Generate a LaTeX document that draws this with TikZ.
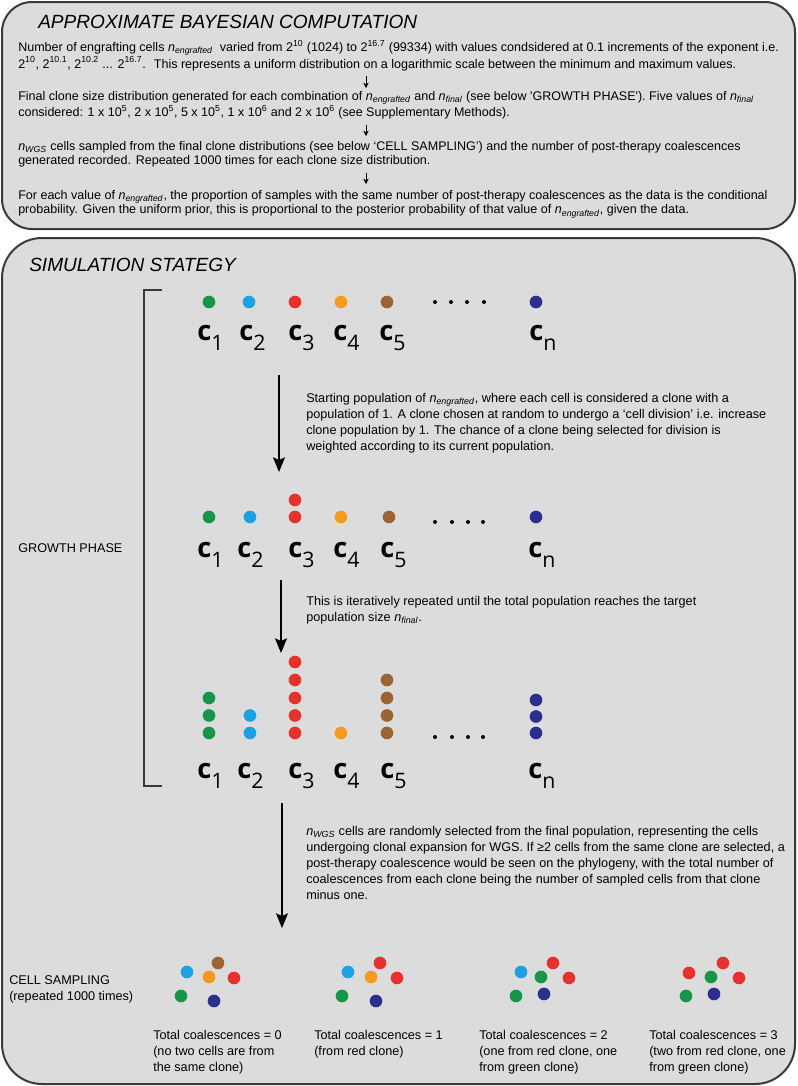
\documentclass[tikz,border=0pt]{standalone}
\usepackage{fontspec}
\setmainfont{Liberation Sans}
\newfontfamily\cfont{Open Sans}
\usetikzlibrary{arrows.meta}
\definecolor{boxfill}{HTML}{DCDCDC}
\definecolor{boxline}{HTML}{3A3A3A}
\definecolor{cgreen}{HTML}{17954A}
\definecolor{cblue}{HTML}{1DA1E2}
\definecolor{cred}{HTML}{E5322D}
\definecolor{corange}{HTML}{F49A1C}
\definecolor{cbrown}{HTML}{9B6434}
\definecolor{cnavy}{HTML}{2D2F8E}
\newcommand\nsub[1]{\textit{n}\textsubscript{\textit{#1}}}
\newcommand\csub[1]{{\bfseries c}\raisebox{-7.5pt}{\fontsize{16}{16}\selectfont #1}}
\begin{document}
\begin{tikzpicture}[x=0.75pt,y=-0.75pt,
  panel/.style={draw=boxline, fill=boxfill, line width=1.5pt},
  title/.style={font=\fontsize{14.3}{16}\selectfont\itshape, anchor=base west, inner sep=0},
  para/.style={align=left, anchor=north west, inner sep=0, font=\fontsize{9.4}{10.9}\selectfont},
  simpara/.style={align=left, anchor=north west, inner sep=0, font=\fontsize{9.5}{12}\selectfont},
  cell/.style={circle, inner sep=0, minimum size=9.5pt},
  tinydot/.style={circle, fill=black, inner sep=0, minimum size=3pt},
  clabel/.style={font=\cfont\fontsize{20.5}{21}\selectfont, anchor=base west, inner sep=0},
  flow/.style={line width=1.1pt, -{Stealth[length=11pt,width=9pt,inset=2pt]}},
  smallflow/.style={line width=0.6pt, -{Stealth[length=4pt,width=4pt]}},
  bracket/.style={line width=1.1pt, draw=boxline}
]
\useasboundingbox (0,0) rectangle (797,1086);
% panels
\draw[panel, rounded corners=22.5pt] (2,2) rectangle (795,229);
\draw[panel, rounded corners=30pt] (2,238) rectangle (795,1084);

% ---------- ABC panel
\node[title] (t1) at (38,28) {APPROXIMATE BAYESIAN COMPUTATION};
\node[para] (p1) at (18,40) {Number of engrafting cells \nsub{engrafted}~ varied from 2\textsuperscript{10} (1024) to 2\textsuperscript{16.7} (99334) with values condsidered at 0.1 increments of the exponent i.e.\\
2\textsuperscript{10}, 2\textsuperscript{10.1}, 2\textsuperscript{10.2} ... 2\textsuperscript{16.7}.~ This represents a uniform distribution on a logarithmic scale between the minimum and maximum values.};
\node[para] (p2) at (18,91) {Final clone size distribution generated for each combination of \nsub{engrafted} and \nsub{final} (see below \textquotesingle GROWTH PHASE\textquotesingle). Five values of \nsub{final}\\
considered: 1 x 10\textsuperscript{5}, 2 x 10\textsuperscript{5}, 5 x 10\textsuperscript{5}, 1 x 10\textsuperscript{6} and 2 x 10\textsuperscript{6} (see Supplementary Methods).};
\node[para] (p3) at (18,141) {\nsub{WGS} cells sampled from the final clone distributions (see below ‘CELL SAMPLING’) and the number of post-therapy coalescences\\
generated recorded. Repeated 1000 times for each clone size distribution.};
\node[para] (p4) at (18,190) {For each value of \nsub{engrafted}, the proportion of samples with the same number of post-therapy coalescences as the data is the conditional\\
probability. Given the uniform prior, this is proportional to the posterior probability of that value of \nsub{engrafted}, given the data.};
\coordinate (s1a) at (366,76); \coordinate (s1b) at (366,88);
\coordinate (s2a) at (366,125); \coordinate (s2b) at (366,136);
\coordinate (s3a) at (366,173); \coordinate (s3b) at (366,184);
\draw[smallflow] (s1a) -- (s1b);
\draw[smallflow] (s2a) -- (s2b);
\draw[smallflow] (s3a) -- (s3b);

% ---------- Simulation panel
\node[title] (t2) at (29,271) {SIMULATION STATEGY};
\draw[bracket] (162,290) -- (144,290) -- (144,786) -- (162,786);
\node[simpara, anchor=west] (gp) at (18,548) {GROWTH PHASE};
\node[simpara] (cs) at (9,975) {CELL SAMPLING\\(repeated 1000 times)};

% row 1
\node[cell, fill=cgreen] (r1a) at (209,302) {};
\node[cell, fill=cblue] (r1b) at (249,302) {};
\node[cell, fill=cred] (r1c) at (295,302) {};
\node[cell, fill=corange] (r1d) at (341,302) {};
\node[cell, fill=cbrown] (r1e) at (387,302) {};
\node[cell, fill=cnavy] (r1n) at (536,302) {};
\foreach \x [count=\i] in {435,451,467,484} \node[tinydot] (r1e\i) at (\x,302) {};
\node[clabel] (l1a) at (197,340) {\csub{1}};
\node[clabel] (l1b) at (239,340) {\csub{2}};
\node[clabel] (l1c) at (288,340) {\csub{3}};
\node[clabel] (l1d) at (333,340) {\csub{4}};
\node[clabel] (l1e) at (379,340) {\csub{5}};
\node[clabel] (l1n) at (529,340) {\csub{n}};

\coordinate (a1s) at (279,375); \coordinate (a1e) at (279,472);
\draw[flow] (a1s) -- (a1e);
\node[simpara] (txt1) at (306,393) {Starting population of \nsub{engrafted}, where each cell is considered a clone with a\\
population of 1. A clone chosen at random to undergo a ‘cell division’ i.e. increase\\
clone population by 1. The chance of a clone being selected for division is\\
weighted according to its current population.};

% row 2
\node[cell, fill=cgreen] (r2a) at (209,517) {};
\node[cell, fill=cblue] (r2b) at (250,517) {};
\node[cell, fill=cred] (r2c) at (295,517) {};
\node[cell, fill=cred] (r2c2) at (295,500) {};
\node[cell, fill=corange] (r2d) at (341,517) {};
\node[cell, fill=cbrown] (r2e) at (389,517) {};
\node[cell, fill=cnavy] (r2n) at (536,517) {};
\foreach \x [count=\i] in {435,452,468,483} \node[tinydot] (r2e\i) at (\x,522) {};
\node[clabel] (l2a) at (197,557) {\csub{1}};
\node[clabel] (l2b) at (237,557) {\csub{2}};
\node[clabel] (l2c) at (288,557) {\csub{3}};
\node[clabel] (l2d) at (333,557) {\csub{4}};
\node[clabel] (l2e) at (380,557) {\csub{5}};
\node[clabel] (l2n) at (528,557) {\csub{n}};

\coordinate (a2s) at (281,580); \coordinate (a2e) at (281,653);
\draw[flow] (a2s) -- (a2e);
\node[simpara] (txt2) at (306,596) {This is iteratively repeated until the total population reaches the target\\
population size \nsub{final}.};

% row 3
\foreach \y [count=\i] in {733,715.5,698} \node[cell, fill=cgreen] (r3a\i) at (209,\y) {};
\foreach \y [count=\i] in {733,715.5} \node[cell, fill=cblue] (r3b\i) at (250,\y) {};
\foreach \y [count=\i] in {733,715.5,698,680,662} \node[cell, fill=cred] (r3c\i) at (295,\y) {};
\node[cell, fill=corange] (r3d1) at (341,733) {};
\foreach \y [count=\i] in {733,715.5,698,680} \node[cell, fill=cbrown] (r3e\i) at (387,\y) {};
\foreach \y [count=\i] in {733,716.5,700} \node[cell, fill=cnavy] (r3n\i) at (536,\y) {};
\foreach \x [count=\i] in {435,452,468,483} \node[tinydot] (r3e\i) at (\x,737) {};
\node[clabel] (l3a) at (197,778) {\csub{1}};
\node[clabel] (l3b) at (237,778) {\csub{2}};
\node[clabel] (l3c) at (288,778) {\csub{3}};
\node[clabel] (l3d) at (333,778) {\csub{4}};
\node[clabel] (l3e) at (380,778) {\csub{5}};
\node[clabel] (l3n) at (528,778) {\csub{n}};

\coordinate (a3s) at (282,803); \coordinate (a3e) at (282,928);
\draw[flow] (a3s) -- (a3e);
\node[simpara] (txt3) at (306,826) {\nsub{WGS} cells are randomly selected from the final population, representing the cells\\
undergoing clonal expansion for WGS. If ≥2 cells from the same clone are selected, a\\
post-therapy coalescence would be seen on the phylogeny, with the total number of\\
coalescences from each clone being the number of sampled cells from that clone\\
minus one.};

% sampling clusters
\node[cell, fill=cblue] (k1a) at (187,972) {};
\node[cell, fill=cbrown] (k1b) at (218,963) {};
\node[cell, fill=corange] (k1c) at (209,977) {};
\node[cell, fill=cred] (k1d) at (234,978) {};
\node[cell, fill=cgreen] (k1e) at (181,996) {};
\node[cell, fill=cnavy] (k1f) at (214,1001) {};

\node[cell, fill=cblue] (k2a) at (348,972) {};
\node[cell, fill=cred] (k2b) at (380,963) {};
\node[cell, fill=corange] (k2c) at (371,977) {};
\node[cell, fill=cred] (k2d) at (397,978) {};
\node[cell, fill=cgreen] (k2e) at (342,996) {};
\node[cell, fill=cnavy] (k2f) at (376,1001) {};

\node[cell, fill=cblue] (k3a) at (521,972) {};
\node[cell, fill=cred] (k3b) at (553,963) {};
\node[cell, fill=cgreen] (k3c) at (541,977) {};
\node[cell, fill=cred] (k3d) at (569,978) {};
\node[cell, fill=cgreen] (k3e) at (516,996) {};
\node[cell, fill=cnavy] (k3f) at (544,994) {};

\node[cell, fill=cred] (k4a) at (689,973) {};
\node[cell, fill=cred] (k4b) at (723,963) {};
\node[cell, fill=cgreen] (k4c) at (711,977) {};
\node[cell, fill=cred] (k4d) at (739,978) {};
\node[cell, fill=cgreen] (k4e) at (686,996) {};
\node[cell, fill=cnavy] (k4f) at (714,994) {};

\node[simpara] (cap1) at (153,1030) {Total coalescences = 0\\(no two cells are from\\the same clone)};
\node[simpara] (cap2) at (314,1030) {Total coalescences = 1\\(from red clone)};
\node[simpara] (cap3) at (479,1030) {Total coalescences = 2\\(one from red clone, one\\from green clone)};
\node[simpara] (cap4) at (649,1030) {Total coalescences = 3\\(two from red clone, one\\from green clone)};
\end{tikzpicture}
\end{document}
